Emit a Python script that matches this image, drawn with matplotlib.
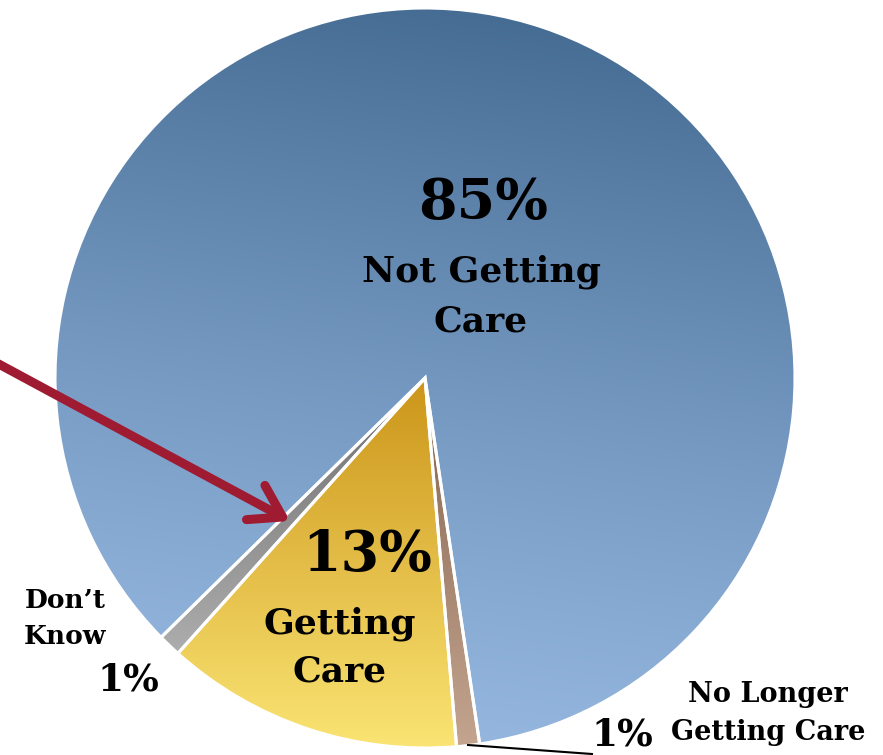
import numpy as np
import matplotlib.pyplot as plt
from matplotlib.colors import LinearSegmentedColormap

# dati della torta (ordine antiorario)
etichette = ['Not Getting Care', "Don't Know", 'Getting Care', 'No Longer Getting Care']
valori = [85, 1, 13, 1]
colori_alto = ['#3f668d', '#6e6e6e', '#cc951a', '#86654f']
colori_basso = ['#97b9e2', '#adadad', '#fae473', '#c3a48e']

W, H = 883, 755
fig = plt.figure(figsize=(W / 100, H / 100), dpi=100)
ax = fig.add_axes([0, 0, 1, 1])

centro = (425, H - 378)
raggio = 370

wedges, _ = ax.pie(valori, startangle=278.5, counterclock=True, center=centro,
                   radius=raggio, frame=True,
                   wedgeprops=dict(edgecolor='white', linewidth=2.2, facecolor='none'))

# sfumature dentro ogni spicchio
xx, yy = np.meshgrid(np.linspace(0, W, 442), np.linspace(0, H, 378))
direzioni = [(0.15, 1.0), (0.0, 1.0), (0.0, 1.0), (0.0, 1.0)]
esponenti = [1.25, 1.0, 1.0, 1.0]
for w, c1, c2, d, g in zip(wedges, colori_alto, colori_basso, direzioni, esponenti):
    ext = w.get_path().get_extents()
    d = np.array(d) / np.hypot(*d)
    p = xx * d[0] + yy * d[1]
    corners = [ext.x0 * d[0] + ext.y0 * d[1], ext.x1 * d[0] + ext.y1 * d[1],
               ext.x0 * d[0] + ext.y1 * d[1], ext.x1 * d[0] + ext.y0 * d[1]]
    t = np.clip((p - min(corners)) / (max(corners) - min(corners)), 0, 1) ** g
    cmap = LinearSegmentedColormap.from_list('g', [c2, c1])
    im = ax.imshow(t, cmap=cmap, extent=(0, W, 0, H), origin='lower',
                   vmin=0, vmax=1, zorder=1, interpolation='bilinear')
    im.set_clip_path(w)
    w.set_zorder(2)

ax.set_xlim(0, W)
ax.set_ylim(0, H)
ax.set_aspect('equal')
ax.axis('off')

font = dict(family='DejaVu Serif', fontweight='heavy', color='black',
            ha='center', va='center', zorder=5)

ax.text(483, H - 203, '85%', fontsize=40, **font)
ax.text(481, H - 272, 'Not Getting', fontsize=26, **font)
ax.text(481, H - 321, 'Care', fontsize=26, **font)

ax.text(367, H - 555, '13%', fontsize=40, **font)
ax.text(340, H - 624, 'Getting', fontsize=26, **font)
ax.text(340, H - 672, 'Care', fontsize=26, **font)

ax.text(65, H - 601, 'Don\u2019t', fontsize=19, **font)
ax.text(65, H - 637, 'Know', fontsize=19, **font)
ax.text(128, H - 680, '1%', fontsize=27, **font)

ax.text(768, H - 694, 'No Longer', fontsize=19.5, **font)
ax.text(768, H - 732, 'Getting Care', fontsize=19.5, **font)
ax.text(622, H - 735, '1%', fontsize=27, **font)

# linea guida
ax.plot([468, 592], [H - 745, H - 754], color='black', lw=1.5, zorder=4)

# freccia
ax.annotate('', xy=(290, H - 521), xytext=(-5, H - 362),
            arrowprops=dict(arrowstyle='->,head_length=1.1,head_width=0.7',
                            lw=6.5, color='#9e1b32', capstyle='round',
                            joinstyle='round', shrinkA=0, shrinkB=0,
                            mutation_scale=20), zorder=6)

fig.savefig('out.png', dpi=100)
